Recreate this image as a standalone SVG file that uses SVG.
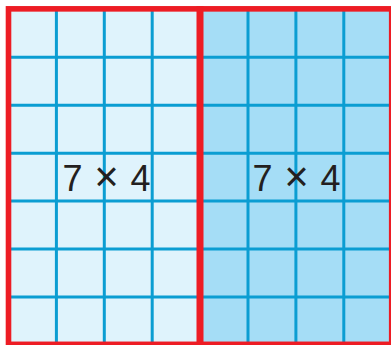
<svg xmlns="http://www.w3.org/2000/svg" width="391" height="345" viewBox="0 0 391 345">
  <style>
    .grid { stroke: #0b9dd2; stroke-width: 3; fill: none; }
    .frame { stroke: #ed1c24; stroke-width: 5.6; fill: none; }
    .lbl { font-family: "Liberation Sans", Arial, sans-serif; font-size: 36px; fill: #231f20; text-anchor: middle; }
    .times { font-size: 42px; }
  </style>
  <rect width="391" height="345" fill="#ffffff"/>
  <g id="left-array">
    <rect x="8.5" y="9" width="191.6" height="336" fill="#dff3fc"/>
    <path class="grid" d="M56.4 9V345M104.3 9V345M152.2 9V345M8.5 57.25H200M8.5 105.2H200M8.5 153.15H200M8.5 201.1H200M8.5 249.05H200M8.5 297H200"/>
    <rect class="frame" x="8.5" y="8.85" width="191.6" height="335.5"/>
    <text class="lbl" x="106.5" y="191" textLength="88" lengthAdjust="spacing">7 <tspan class="times">×</tspan> 4</text>
  </g>
  <g id="right-array">
    <rect x="200.1" y="9" width="191.6" height="336" fill="#a5ddf6"/>
    <path class="grid" d="M248 9V345M295.9 9V345M343.8 9V345M200 57.25H391M200 105.2H391M200 153.15H391M200 201.1H391M200 249.05H391M200 297H391"/>
    <rect class="frame" x="200.1" y="8.85" width="191.6" height="335.5"/>
    <text class="lbl" x="296.5" y="191" textLength="88" lengthAdjust="spacing">7 <tspan class="times">×</tspan> 4</text>
  </g>
  <g id="divider">
    <line x1="200" y1="6" x2="200" y2="345" stroke="#ed1c24" stroke-width="7"/>
  </g>
</svg>
